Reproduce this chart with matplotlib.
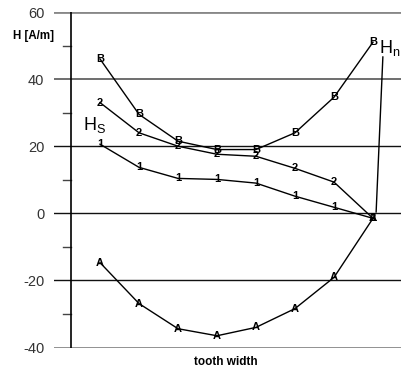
import matplotlib
matplotlib.use("Agg")
import matplotlib.pyplot as plt

plt.rcParams['font.family'] = ['Liberation Sans', 'DejaVu Sans']

positions = [1, 2, 3, 4, 5, 6, 7, 8]
curve_B = [46.0, 29.5, 21.5, 19.0, 19.0, 24.0, 34.6, 51.0]
curve_2 = [33.0, 24.0, 20.0, 17.6, 17.0, 13.4, 9.3, -1.5]
curve_1 = [20.6, 13.7, 10.4, 10.1, 9.0, 5.1, 1.8, -1.5]
curve_A = [-14.7, -26.9, -34.4, -36.5, -34.0, -28.4, -19.1, -1.5]
series = [("B", curve_B), ("2", curve_2), ("1", curve_1), ("A", curve_A)]

major_ticks = [60, 40, 20, 0, -20, -40]
minor_ticks = [50, 30, 10, -10, -30]

W, H = 401, 374
fig = plt.figure(figsize=(W / 100, H / 100), dpi=100)
ax = fig.add_axes([54 / W, (H - 347.5) / H, (W - 54) / W, 335.5 / H])

px_per_unit = 39.0
xmin = 1 - (100 - 54) / px_per_unit
xmax = xmin + (W - 54) / px_per_unit
ax.set_xlim(xmin, xmax)
ax.set_ylim(-40, 60)
spine_x = xmin + (71 - 54) / px_per_unit

for s in ax.spines.values():
    s.set_visible(False)

for v in major_ticks:
    if v in (60, -40):
        ax.axhline(v, color='#888888', lw=2.0, zorder=1)
    elif v == 40:
        ax.axhline(v, color='#555555', lw=1.2, zorder=1)
    else:
        ax.axhline(v, color='#111111', lw=1.0, zorder=1)
for v in minor_ticks:
    ax.plot([spine_x - 8 / px_per_unit, spine_x], [v, v], color='#444444', lw=1.0, zorder=1)
ax.plot([spine_x, spine_x], [-40, 60], color='black', lw=1.2, zorder=2)

ax.set_xticks([])
ax.set_yticks(major_ticks)
ax.set_yticklabels([str(v) for v in major_ticks], fontsize=10.5, color='#333333')
ax.tick_params(axis='y', length=0, pad=7)

for lab, vals in series:
    ax.plot(positions, vals, color='black', lw=1.0, zorder=3)
    for x, y in zip(positions, vals):
        ax.text(x, y, lab, ha='center', va='center', fontsize=8,
                fontweight='bold', zorder=4)

# Hn pointer line
ax.annotate('', xy=(xmin + (376 - 54) / px_per_unit, -0.5),
            xytext=(xmin + (383 - 54) / px_per_unit, 47.5),
            arrowprops=dict(arrowstyle='-', color='black', lw=1.0))

fig.text(13 / W, 1 - 36 / H, 'H [A/m]', fontsize=8.3, fontweight='bold',
         ha='left', va='center')
fig.text(226 / W, 1 - 362 / H, 'tooth width', fontsize=8.5, fontweight='bold',
         ha='center', va='center')
fig.text(83 / W, 1 - 125 / H, 'H$_\\mathregular{S}$', fontsize=13,
         ha='left', va='center')
fig.text(379 / W, 1 - 48 / H, 'H$_\\mathregular{n}$', fontsize=13,
         ha='left', va='center')

fig.savefig('out.png', dpi=100)
